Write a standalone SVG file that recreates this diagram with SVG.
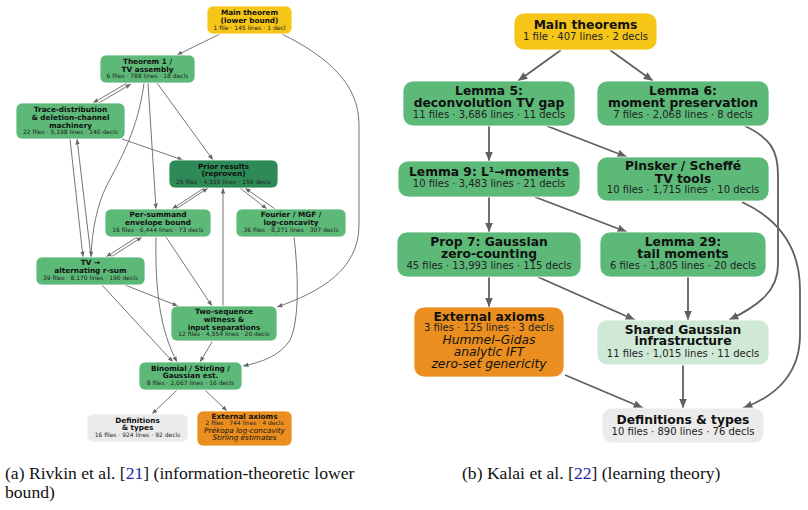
<svg xmlns="http://www.w3.org/2000/svg" width="808" height="510" viewBox="0 0 808 510">
<defs>
<style>
.bg{fill:#ffffff}
.g{fill:#5cb978}
.dg{fill:#2e8b57}
.y{fill:#f5c518}
.o{fill:#ea8f1f}
.lg{fill:#cfe9d6}
.gr{fill:#ebebeb}
.box{stroke:#ffffff;stroke-width:0.8}
text{text-anchor:middle;fill:#111111;font-family:"DejaVu Sans",sans-serif}
.lt{font-size:7.3px;font-weight:bold}
.ls{font-size:6px;fill:#222222}
.li{font-size:7.3px;font-style:italic}
.rt{font-size:12.3px;font-weight:bold}
.rs{font-size:10px;fill:#222222}
.ri{font-size:12.3px;font-style:italic}
.le{fill:none;stroke:#666666;stroke-width:0.9}
.re{fill:none;stroke:#606060;stroke-width:1.8}
.cap{font-family:"Liberation Serif","Times New Roman",serif;font-size:17.6px;text-anchor:start;fill:#111111}
.ref{fill:#2525a8}
</style>
<marker id="la" markerUnits="userSpaceOnUse" markerWidth="6" markerHeight="5" refX="5.5" refY="2.2" orient="auto">
<path d="M0,0 L5.5,2.2 L0,4.4 z" fill="#666666"/>
</marker>
<marker id="ra" markerUnits="userSpaceOnUse" markerWidth="10" markerHeight="9" refX="9.5" refY="4" orient="auto">
<path d="M0,0 L9.5,4 L0,8 z" fill="#606060"/>
</marker>
</defs>
<rect class="bg" x="0" y="0" width="808" height="510"/>

<g id="connectors-left">
<path class="le" marker-end="url(#la)" d="M220,34 L177,55"/>
<path class="le" marker-end="url(#la)" d="M282,34 C330,58 359,85 359,125 L359,225 C359,270 320,292 277,307"/>
<path class="le" marker-end="url(#la)" d="M127,83 L93,103"/>
<path class="le" marker-end="url(#la)" d="M97,104 L131,84"/>
<path class="le" marker-end="url(#la)" d="M144,83 C138,130 120,160 107,185 C97,205 92,230 91,257"/>
<path class="le" marker-end="url(#la)" d="M148,83 L156,209"/>
<path class="le" marker-end="url(#la)" d="M157,83 L213,160"/>
<path class="le" marker-end="url(#la)" d="M122,139 L183,160"/>
<path class="le" marker-end="url(#la)" d="M70,139 L83,257"/>
<path class="le" marker-end="url(#la)" d="M91,257 L77,139"/>
<path class="le" marker-end="url(#la)" d="M204,188 L172,209"/>
<path class="le" marker-end="url(#la)" d="M176,209 L208,188"/>
<path class="le" marker-end="url(#la)" d="M240,188 L267,209"/>
<path class="le" marker-end="url(#la)" d="M275,209 L245,188"/>
<path class="le" marker-end="url(#la)" d="M137,237 L106,257"/>
<path class="le" marker-end="url(#la)" d="M111,257 L142,237"/>
<path class="le" marker-end="url(#la)" d="M223,306 L223,188"/>
<path class="le" marker-end="url(#la)" d="M166,237 L212,306"/>
<path class="le" marker-end="url(#la)" d="M156,237 C155,290 160,330 177,362"/>
<path class="le" marker-end="url(#la)" d="M102,285 L173,362"/>
<path class="le" marker-end="url(#la)" d="M125,285 L178,306"/>
<path class="le" marker-end="url(#la)" d="M294,237 C298,270 300,320 290,340 C280,356 262,362 243,366"/>
<path class="le" marker-end="url(#la)" d="M212,342 L200,362"/>
<path class="le" marker-end="url(#la)" d="M177,390 L152,414"/>
<path class="le" marker-end="url(#la)" d="M205,390 L227,411"/>
</g>

<g id="connectors-right">
<path class="re" marker-end="url(#ra)" d="M561,50 L518,81"/>
<path class="re" marker-end="url(#ra)" d="M610,50 L653,81"/>
<path class="re" marker-end="url(#ra)" d="M489,126 L489,161"/>
<path class="re" marker-end="url(#ra)" d="M547,126 L627,157"/>
<path class="re" marker-end="url(#ra)" d="M745,126 C770,138 778,150 778,175 L778,265 C778,290 760,305 729,320"/>
<path class="re" marker-end="url(#ra)" d="M742,202 C785,222 800,255 800,290 L800,335 C800,370 780,395 743,408"/>
<path class="re" marker-end="url(#ra)" d="M489,197 L489,232"/>
<path class="re" marker-end="url(#ra)" d="M535,197 L627,232"/>
<path class="re" marker-end="url(#ra)" d="M489,277 L489,307"/>
<path class="re" marker-end="url(#ra)" d="M538,277 L635,320"/>
<path class="re" marker-end="url(#ra)" d="M688,277 L688,320"/>
<path class="re" marker-end="url(#ra)" d="M565,375 L643,408"/>
<path class="re" marker-end="url(#ra)" d="M683,365 L683,408"/>
</g>

<g id="l-main"><rect class="y box" x="207" y="6" width="85" height="28" rx="6"/>
<text class="lt" x="249.5" y="15.4">Main theorem</text><text class="lt" x="249.5" y="23">(lower bound)</text><text class="ls" x="249.5" y="29.6">1 file · 145 lines · 1 decl</text></g>
<g id="l-thm1"><rect class="g box" x="100" y="55" width="95" height="28" rx="6"/>
<text class="lt" x="147.5" y="64.4">Theorem 1 /</text><text class="lt" x="147.5" y="72">TV assembly</text><text class="ls" x="147.5" y="78.2">6 files · 788 lines · 18 decls</text></g>
<g id="l-trace"><rect class="g box" x="16" y="103" width="109" height="36" rx="6"/>
<text class="lt" x="70.5" y="112">Trace-distribution</text><text class="lt" x="70.5" y="120">&amp; deletion-channel</text><text class="lt" x="70.5" y="128">machinery</text><text class="ls" x="70.5" y="134.2">22 files · 5,198 lines · 140 decls</text></g>
<g id="l-prior"><rect class="dg box" x="169" y="160" width="109" height="28" rx="6"/>
<text class="lt" x="223.5" y="168.7">Prior results</text><text class="lt" x="223.5" y="176">(reproven)</text><text class="ls" x="223.5" y="184">25 files · 4,555 lines · 159 decls</text></g>
<g id="l-persummand"><rect class="g box" x="105" y="209" width="106" height="28" rx="6"/>
<text class="lt" x="158" y="216.7">Per-summand</text><text class="lt" x="158" y="224.8">envelope bound</text><text class="ls" x="158" y="232.3">16 files · 6,444 lines · 73 decls</text></g>
<g id="l-fourier"><rect class="g box" x="236" y="209" width="110" height="28" rx="6"/>
<text class="lt" x="291" y="216.7">Fourier / MGF /</text><text class="lt" x="291" y="224.8">log-concavity</text><text class="ls" x="291" y="232.3">36 files · 8,271 lines · 307 decls</text></g>
<g id="l-tv"><rect class="g box" x="36" y="257" width="109" height="28" rx="6"/>
<text class="lt" x="90.5" y="265.4">TV →</text><text class="lt" x="90.5" y="273.3">alternating r-sum</text><text class="ls" x="90.5" y="279.7">39 files · 8,170 lines · 190 decls</text></g>
<g id="l-twoseq"><rect class="g box" x="171" y="306" width="106" height="35" rx="6"/>
<text class="lt" x="224" y="313.7">Two-sequence</text><text class="lt" x="224" y="321.7">witness &amp;</text><text class="lt" x="224" y="329.6">input separations</text><text class="ls" x="224" y="335.8">12 files · 4,554 lines · 20 decls</text></g>
<g id="l-binomial"><rect class="g box" x="139" y="362" width="103" height="28" rx="6"/>
<text class="lt" x="190.5" y="370.8">Binomial / Stirling /</text><text class="lt" x="190.5" y="377.8">Gaussian est.</text><text class="ls" x="190.5" y="384.7">8 files · 2,067 lines · 16 decls</text></g>
<g id="l-defs"><rect class="gr box" x="87" y="414" width="101" height="28" rx="6"/>
<text class="lt" x="137.5" y="422.6">Definitions</text><text class="lt" x="137.5" y="430.3">&amp; types</text><text class="ls" x="137.5" y="437">16 files · 924 lines · 92 decls</text></g>
<g id="l-ext"><rect class="o box" x="197" y="411" width="95" height="35" rx="6"/>
<text class="lt" x="244.5" y="418.6">External axioms</text><text class="ls" x="244.5" y="425.4">2 files · 744 lines · 4 decls</text><text class="li" x="244.5" y="432.8">Prékopa log-concavity</text><text class="li" x="244.5" y="440.4">Stirling estimates</text></g>

<g id="r-main"><rect class="y box" x="514" y="13" width="143" height="37" rx="10"/>
<text class="rt" x="585.5" y="29.4">Main theorems</text><text class="rs" x="585.5" y="39.6">1 file · 407 lines · 2 decls</text></g>
<g id="r-lemma5"><rect class="g box" x="403" y="81" width="172" height="45" rx="10"/>
<text class="rt" x="489" y="95.1">Lemma 5:</text><text class="rt" x="489" y="107.1">deconvolution TV gap</text><text class="rs" x="489" y="117.6">11 files · 3,686 lines · 11 decls</text></g>
<g id="r-lemma6"><rect class="g box" x="597" y="81" width="172" height="45" rx="10"/>
<text class="rt" x="683" y="95.1">Lemma 6:</text><text class="rt" x="683" y="107.1">moment preservation</text><text class="rs" x="683" y="117.6">7 files · 2,068 lines · 8 decls</text></g>
<g id="r-lemma9"><rect class="g box" x="398" y="161" width="182" height="36" rx="10"/>
<text class="rt" x="489" y="176.1">Lemma 9: L¹→moments</text><text class="rs" x="489" y="186.9">10 files · 3,483 lines · 21 decls</text></g>
<g id="r-pinsker"><rect class="g box" x="597" y="157" width="172" height="44" rx="10"/>
<text class="rt" x="683" y="170.1">Pinsker / Scheffé</text><text class="rt" x="683" y="182.7">TV tools</text><text class="rs" x="683" y="192.9">10 files · 1,715 lines · 10 decls</text></g>
<g id="r-prop7"><rect class="g box" x="397" y="232" width="184" height="45" rx="10"/>
<text class="rt" x="489" y="246.1">Prop 7: Gaussian</text><text class="rt" x="489" y="257.7">zero-counting</text><text class="rs" x="489" y="268.6">45 files · 13,993 lines · 115 decls</text></g>
<g id="r-lemma29"><rect class="g box" x="600" y="232" width="166" height="45" rx="10"/>
<text class="rt" x="683" y="246.1">Lemma 29:</text><text class="rt" x="683" y="257.7">tail moments</text><text class="rs" x="683" y="268.6">6 files · 1,805 lines · 20 decls</text></g>
<g id="r-ext"><rect class="o box" x="414" y="307" width="150" height="70" rx="10"/>
<text class="rt" x="489" y="321.1">External axioms</text><text class="rs" x="489" y="331.3">3 files · 125 lines · 3 decls</text><text class="ri" x="489" y="344.4">Hummel–Gidas</text><text class="ri" x="489" y="356.1">analytic IFT</text><text class="ri" x="489" y="368.4">zero-set genericity</text></g>
<g id="r-shared"><rect class="lg box" x="597" y="320" width="172" height="45" rx="10"/>
<text class="rt" x="683" y="333.7">Shared Gaussian</text><text class="rt" x="683" y="345.4">infrastructure</text><text class="rs" x="683" y="356.9">11 files · 1,015 lines · 11 decls</text></g>
<g id="r-defs"><rect class="gr box" x="602" y="408" width="162" height="35" rx="10"/>
<text class="rt" x="683" y="424.4">Definitions &amp; types</text><text class="rs" x="683" y="434.6">10 files · 890 lines · 76 decls</text></g>

<g id="captions">
<text class="cap" x="5" y="479">(a) Rivkin et al. [<tspan class="ref">21</tspan>] (information-theoretic lower</text>
<text class="cap" x="5" y="498">bound)</text>
<text class="cap" x="462" y="479">(b) Kalai et al. [<tspan class="ref">22</tspan>] (learning theory)</text>
</g>
</svg>
